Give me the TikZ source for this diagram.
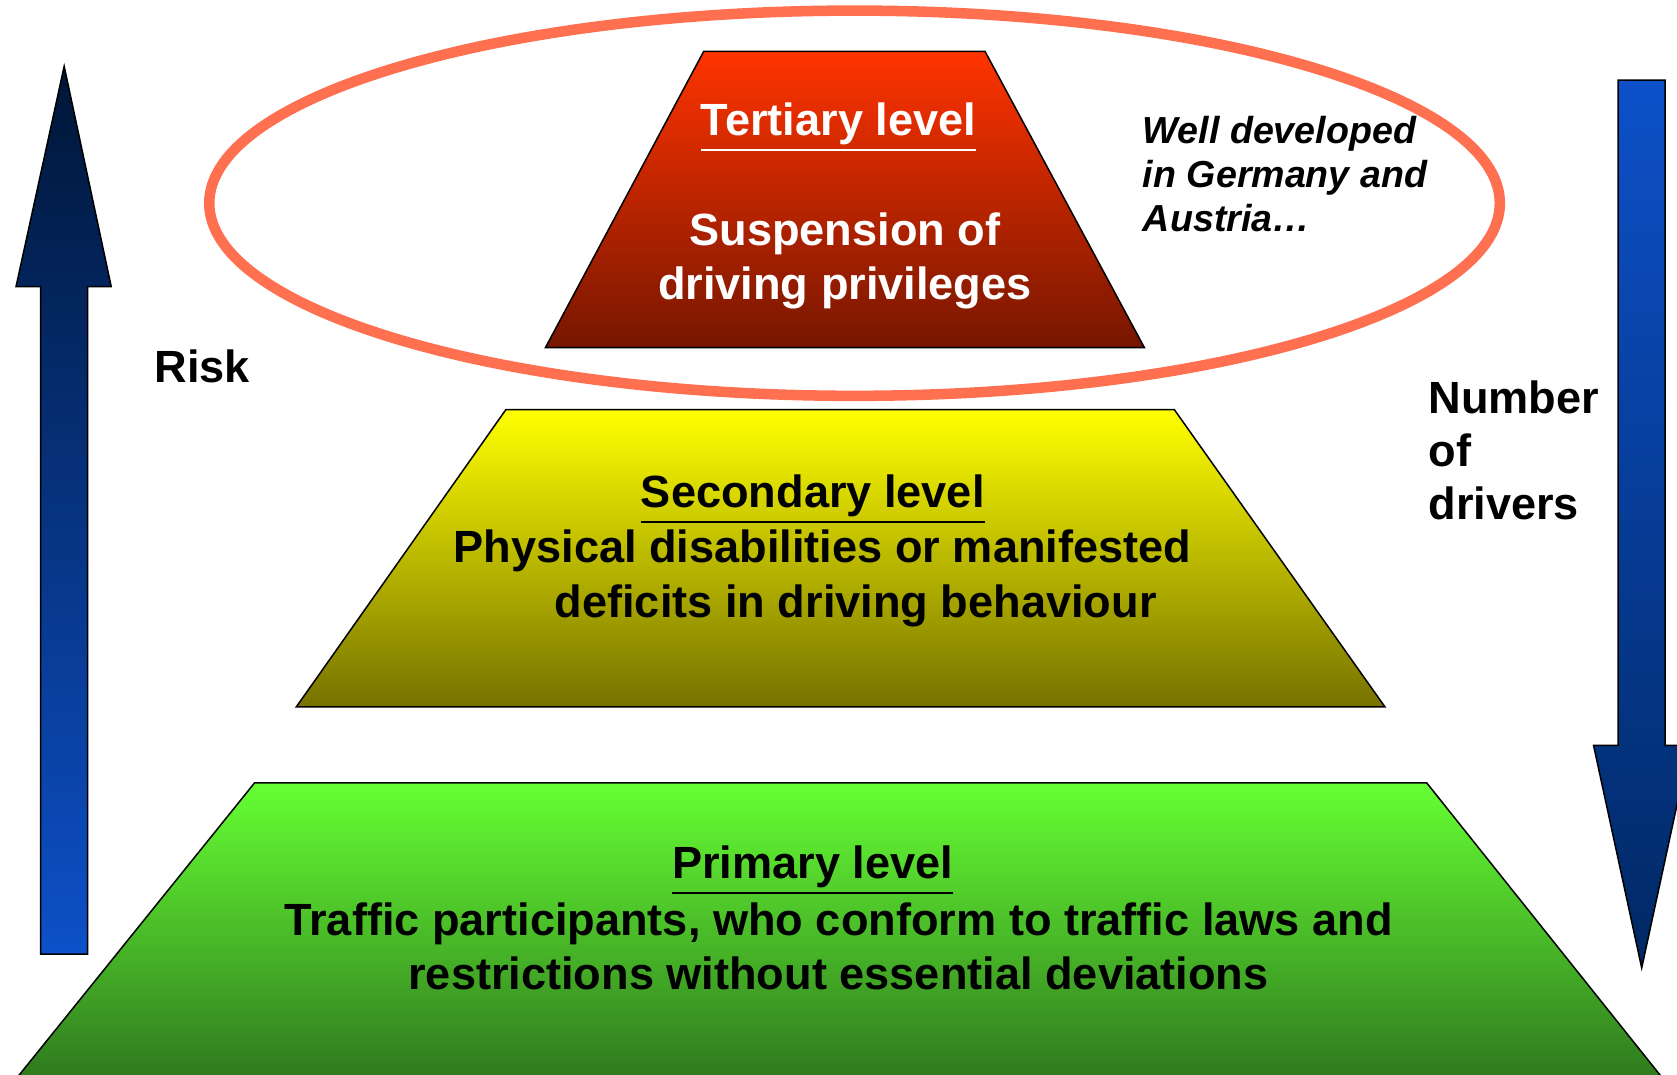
\documentclass[tikz,border=0pt]{standalone}
\usepackage{fontspec}
\setmainfont{Liberation Sans}
\usetikzlibrary{positioning}

\definecolor{ringred}{RGB}{255,112,80}
\definecolor{navytop}{RGB}{0,22,55}
\definecolor{arrowblue}{RGB}{13,80,200}
\definecolor{navybot}{RGB}{0,40,100}

\begin{document}
\begin{tikzpicture}[x=0.01cm, y=-0.01cm,
    levelbox/.style={draw=black, thin},
    leveltext/.style={font=\bfseries\fontsize{12}{14.5}\selectfont, align=center, inner sep=0pt},
    sidetext/.style={font=\bfseries\fontsize{12}{14.2}\selectfont, align=left, inner sep=0pt, anchor=north west},
    notetext/.style={font=\bfseries\itshape\fontsize{10}{11.7}\selectfont, align=left, inner sep=0pt, anchor=north west}]
            \useasboundingbox (0,0) rectangle (1568,1005);
            %Arrows
            \shadedraw[thin, top color=navytop, bottom color=arrowblue]
                (38,892) -- (38,268) -- (15,268) -- (60,62) -- (104,268) -- (82,268) -- (82,892) -- cycle;
            \shadedraw[thin, top color=arrowblue, bottom color=navybot]
                (1513,75) -- (1557,75) -- (1557,697) -- (1580,697) -- (1535,905) -- (1490,697) -- (1513,697) -- cycle;
            %Levels
            \shadedraw[levelbox, top color={rgb,255:red,102;green,255;blue,51}, bottom color={rgb,255:red,46;green,118;blue,30}]
                (238,732) -- (1334,732) -- (1560,1015) -- (10,1015) -- cycle;
            \shadedraw[levelbox, top color={rgb,255:red,255;green,255;blue,0}, bottom color={rgb,255:red,118;green,114;blue,0}]
                (473,383) -- (1098,383) -- (1295,661) -- (277,661) -- cycle;
            \shadedraw[levelbox, top color={rgb,255:red,255;green,51;blue,0}, bottom color={rgb,255:red,118;green,22;blue,0}]
                (658,48) -- (921,48) -- (1070,325) -- (510,325) -- cycle;
            \draw[ringred, line width=2.8pt] (799,190) ellipse [x radius=6.03cm, y radius=1.8cm];
            %Texts
            \node[leveltext, white] (tertiaryhead) at (784,119) {\underline{Tertiary level}};
            \node[leveltext, white] (tertiarybody) at (790,244) {Suspension of\\driving privileges};
            \node[leveltext] (secondaryhead) at (760,467) {\underline{Secondary level}};
            \node[leveltext] (secondarybody) at (769,541) {Physical disabilities or manifested\\\hspace*{0.62cm}deficits in driving behaviour};
            \node[leveltext] (primaryhead) at (760,814) {\underline{Primary level}};
            \node[leveltext] (primarybody) at (784,885) {Traffic participants, who conform to traffic laws and\\restrictions without essential deviations};
            \node[leveltext] (risk) at (189,343) {Risk};
            \node[sidetext] (drivers) at (1335,355) {Number\\of\\drivers};
            \node[notetext] (note) at (1068,108) {Well developed\\in Germany and\\Austria\dots};
        \end{tikzpicture}
\end{document}
